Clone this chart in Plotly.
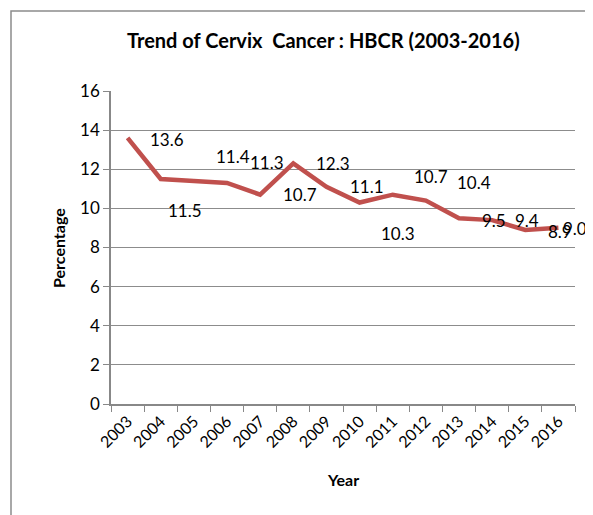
import plotly.graph_objects as go

years = [str(y) for y in range(2003, 2017)]
percentage = [13.6, 11.5, 11.4, 11.3, 10.7, 12.3, 11.1, 10.3, 10.7, 10.4, 9.5, 9.4, 8.9, 9.01]
labels = ["13.6", "11.5", "11.4", "11.3", "10.7", "12.3", "11.1", "10.3", "10.7", "10.4", "9.5", "9.4", "8.9", "9.01"]

# pixel offsets of the data labels (as placed in the original)
label_dx = [39, 24, 39, 40, 40, 40, 41, 38, 38, 48, 35, 35, 35, 22]
label_dy = [-2, -31, 24, 20, 0, 0, 0, -31, 18, 18, -2, 0, -2, -1]

# page has an 8px body margin, so the figure is sized to fit the window
OFF = 8
W, H = 593 - OFF, 515 - OFF
L, T = 111 - OFF, 91 - OFF
R, B = W - (575 - OFF), H - (404 - OFF)
pw, ph = W - L - R, H - T - B


def px(x):
    return (x - OFF - L) / pw


def py(y):
    return (H - B - (y - OFF)) / ph


font = "Lato, Open Sans, sans-serif"

fig = go.Figure()
fig.add_trace(
    go.Scatter(
        x=years,
        y=percentage,
        mode="lines",
        line=dict(color="#C0504D", width=4.5),
        hoverinfo="x+y",
    )
)

for i, (y, t, dx, dy) in enumerate(zip(percentage, labels, label_dx, label_dy)):
    fig.add_annotation(
        x=i, y=y, text=t, showarrow=False, xshift=dx, yshift=dy,
        xanchor="center", yanchor="middle",
        font=dict(family=font, size=17, color="#000"),
    )

fig.add_annotation(
    text="<b>Trend of Cervix  Cancer : HBCR (2003-2016)</b>",
    xref="paper", yref="paper", x=px(323), y=py(40),
    xanchor="center", yanchor="middle",
    showarrow=False, font=dict(family=font, size=20, color="#000"),
)
fig.add_annotation(
    text="<b>Percentage</b>", textangle=-90,
    xref="paper", yref="paper", x=px(58), y=py(248),
    xanchor="center", yanchor="middle",
    showarrow=False, font=dict(family=font, size=16, color="#000"),
)
fig.add_annotation(
    text="<b>Year</b>",
    xref="paper", yref="paper", x=px(343), y=py(479),
    xanchor="center", yanchor="middle",
    showarrow=False, font=dict(family=font, size=16, color="#000"),
)

# outer chart border
fig.add_shape(
    type="rect", xref="paper", yref="paper",
    x0=px(11), x1=px(620), y0=py(540), y1=py(11),
    line=dict(color="#8c8c8c", width=1.5),
)

fig.update_layout(
    width=W, height=H,
    margin=dict(l=L, r=R, t=T, b=B),
    plot_bgcolor="white", paper_bgcolor="white",
    showlegend=False,
    font=dict(family=font, size=17, color="#000"),
)
fig.update_xaxes(
    type="category", tickson="boundaries", ticks="outside", ticklen=6,
    tickcolor="#888", tickangle=-45, tickfont=dict(size=16),
    showline=True, linecolor="#888", linewidth=1.5, showgrid=False,
    range=[-0.5, 13.5],
)
fig.update_yaxes(
    range=[0, 16], dtick=2, ticks="outside", ticklen=6, tickcolor="#888",
    showline=True, linecolor="#888", linewidth=1.5,
    showgrid=True, gridcolor="#8c8c8c", gridwidth=1, zeroline=False,
    tickfont=dict(size=17),
)

fig.write_html("out.html")
